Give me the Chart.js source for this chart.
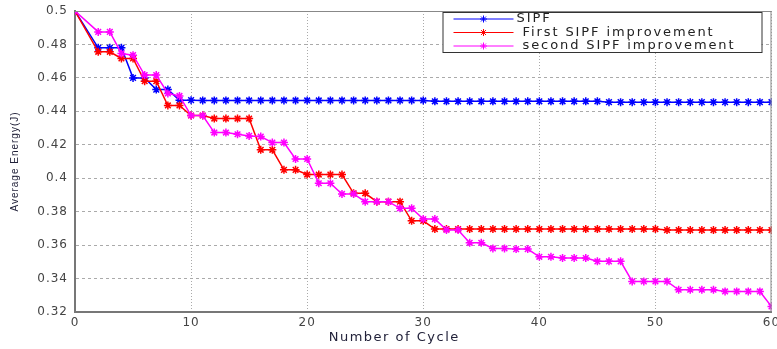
<!DOCTYPE html>
<html>
<head>
<meta charset="utf-8">
<script src="https://cdn.jsdelivr.net/npm/chart.js@4/dist/chart.umd.min.js"></script>
<style>
  html, body { margin: 0; padding: 0; background: #fff; }
  #chart { display: block; }
</style>
</head>
<body>
<canvas id="chart" width="777" height="349"></canvas>
<script>
// number of cycle (x) - the first sample is at 0, next one at 2
const cycles = [0, 2, 3, 4, 5, 6, 7, 8, 9, 10,
  11, 12, 13, 14, 15, 16, 17, 18, 19, 20,
  21, 22, 23, 24, 25, 26, 27, 28, 29, 30,
  31, 32, 33, 34, 35, 36, 37, 38, 39, 40,
  41, 42, 43, 44, 45, 46, 47, 48, 49, 50,
  51, 52, 53, 54, 55, 56, 57, 58, 59, 60];

// average energy (J)
const sipf = [0.5, 0.478, 0.478, 0.478, 0.46, 0.46, 0.453, 0.453, 0.4467, 0.4467,
  0.4465, 0.4465, 0.4465, 0.4465, 0.4465, 0.4465, 0.4465, 0.4465, 0.4465, 0.4465,
  0.4465, 0.4465, 0.4465, 0.4465, 0.4465, 0.4465, 0.4465, 0.4465, 0.4465, 0.4465,
  0.446, 0.446, 0.446, 0.446, 0.446, 0.446, 0.446, 0.446, 0.446, 0.446,
  0.446, 0.446, 0.446, 0.446, 0.446, 0.4455, 0.4455, 0.4455, 0.4455, 0.4455,
  0.4455, 0.4455, 0.4455, 0.4455, 0.4455, 0.4455, 0.4455, 0.4455, 0.4455, 0.4455];

const firstImprovement = [0.5, 0.4756, 0.4756, 0.4716, 0.4716, 0.458, 0.458, 0.4435, 0.4435, 0.4375,
  0.4375, 0.4357, 0.4357, 0.4357, 0.4357, 0.417, 0.417, 0.405, 0.405, 0.4022,
  0.4022, 0.4022, 0.4022, 0.391, 0.391, 0.386, 0.386, 0.386, 0.3745, 0.3745,
  0.3696, 0.3696, 0.3696, 0.3696, 0.3696, 0.3696, 0.3696, 0.3696, 0.3696, 0.3696,
  0.3696, 0.3696, 0.3696, 0.3696, 0.3696, 0.3696, 0.3696, 0.3696, 0.3696, 0.3696,
  0.369, 0.369, 0.369, 0.369, 0.369, 0.369, 0.369, 0.369, 0.369, 0.369];

const secondImprovement = [0.5, 0.4875, 0.4875, 0.4746, 0.4736, 0.4617, 0.4617, 0.4507, 0.4492, 0.4375,
  0.4375, 0.4273, 0.4273, 0.4263, 0.4253, 0.4249, 0.4213, 0.4213, 0.4115, 0.4115,
  0.397, 0.397, 0.3906, 0.3906, 0.386, 0.386, 0.386, 0.382, 0.382, 0.3756,
  0.3756, 0.3691, 0.3691, 0.3614, 0.3614, 0.358, 0.358, 0.3576, 0.3576, 0.353,
  0.353, 0.3523, 0.3523, 0.3523, 0.3503, 0.3503, 0.3503, 0.3383, 0.3383, 0.3383,
  0.3383, 0.3333, 0.3333, 0.3333, 0.3333, 0.3323, 0.3323, 0.3323, 0.3323, 0.3233];

const seriesNames = ['SIPF', ' First SIPF improvement', ' second SIPF improvement'];
const xTicks = [0, 10, 20, 30, 40, 50, 60];
const yTicks = [0.32, 0.34, 0.36, 0.38, 0.4, 0.42, 0.44, 0.46, 0.48, 0.5];

const toPoints = vals => vals.map((v, i) => ({ x: cycles[i], y: v }));

function makeSet(label, vals, color, order) {
  return {
    label: label,
    data: toPoints(vals),
    borderColor: color,
    backgroundColor: color,
    borderWidth: 1.5,
    pointStyle: 'star',
    pointRadius: 4,
    pointBorderWidth: 1.5,
    pointBorderColor: color,
    tension: 0,
    order: order
  };
}

// little asterisk for the legend lines
function drawStar(ctx, x, y, r) {
  ctx.beginPath();
  for (let k = 0; k < 4; k++) {
    const ang = k * Math.PI / 4;
    const dx = Math.cos(ang) * r, dy = Math.sin(ang) * r;
    ctx.moveTo(x - dx, y - dy);
    ctx.lineTo(x + dx, y + dy);
  }
  ctx.stroke();
}

// frame round the plot, x title and matlab style legend box
const framePlugin = {
  id: 'frame',
  beforeDraw(chart) {
    chart.ctx.letterSpacing = '1px';
  },
  afterDraw(chart) {
    const ctx = chart.ctx;
    const a = chart.chartArea;
    ctx.save();
    ctx.strokeStyle = '#888';
    ctx.lineWidth = 1;
    ctx.beginPath();
    ctx.moveTo(a.left, a.top + 0.5);
    ctx.lineTo(a.right, a.top + 0.5);
    ctx.moveTo(a.right - 0.5, a.top);
    ctx.lineTo(a.right - 0.5, a.bottom);
    ctx.stroke();

    // x axis title
    ctx.letterSpacing = '1.5px';
    ctx.fillStyle = '#22223a';
    ctx.font = '13px "DejaVu Sans"';
    ctx.textAlign = 'center';
    ctx.textBaseline = 'middle';
    ctx.fillText('Number of Cycle', (a.left + a.right) / 2 - 29, 338);

    // legend
    const bx = a.right - 329, by = a.top + 1, bw = 319, bh = 40;
    ctx.fillStyle = '#fff';
    ctx.fillRect(bx, by, bw, bh);
    ctx.strokeStyle = '#333';
    ctx.lineWidth = 1;
    ctx.strokeRect(bx + 0.5, by + 0.5, bw, bh);
    ctx.font = '13px "DejaVu Sans"';
    ctx.textAlign = 'left';
    ctx.letterSpacing = '1.9px';
    chart.data.datasets.forEach((ds, i) => {
      const y = by + 7 + i * 13.5;
      ctx.strokeStyle = ds.borderColor;
      ctx.lineWidth = 1;
      ctx.beginPath();
      ctx.moveTo(bx + 11, y);
      ctx.lineTo(bx + 71, y);
      ctx.stroke();
      drawStar(ctx, bx + 41, y, 3.5);
      ctx.fillStyle = '#222';
      ctx.fillText(ds.label, bx + 74, y);
    });
    ctx.restore();
  }
};

new Chart(document.getElementById('chart'), {
  type: 'line',
  data: {
    datasets: [
      makeSet(seriesNames[0], sipf, '#0000ff', 2),
      makeSet(seriesNames[1], firstImprovement, '#ff0000', 1),
      makeSet(seriesNames[2], secondImprovement, '#ff00ff', 0)
    ]
  },
  plugins: [framePlugin],
  options: {
    responsive: false,
    animation: false,
    layout: { padding: { top: 11, right: 2, left: 0, bottom: 0 } },
    plugins: {
      legend: { display: false },
      tooltip: { enabled: false }
    },
    scales: {
      x: {
        type: 'linear',
        min: 0,
        max: 60,
        afterBuildTicks: s => { s.ticks = xTicks.map(v => ({ value: v })); },
        afterFit: s => { s.height = 37; s.paddingLeft = 0; s.paddingRight = 0; },
        ticks: {
          color: '#444',
          font: { family: 'DejaVu Sans', size: 12 },
          padding: 4,
          maxRotation: 0,
          callback: v => String(v)
        },
        grid: {
          color: '#aaa',
          lineWidth: 1,
          drawTicks: false
        },
        border: { display: true, color: '#777', width: 2, dash: [1, 2] },
        title: { display: false }
      },
      y: {
        min: 0.32,
        max: 0.5,
        afterBuildTicks: s => { s.ticks = yTicks.map(v => ({ value: v })); },
        afterFit: s => { s.width = 75; s.paddingTop = 0; s.paddingBottom = 0; },
        ticks: {
          color: '#444',
          font: { family: 'DejaVu Sans', size: 12 },
          padding: 7,
          callback: v => String(+v.toFixed(2))
        },
        grid: {
          color: '#aaa',
          lineWidth: 1,
          drawTicks: false
        },
        border: { display: true, color: '#777', width: 2, dash: [3, 3] },
        title: {
          display: true,
          text: 'Average Energy(J)',
          color: '#22223a',
          font: { family: 'Liberation Sans', size: 10 },
          padding: { top: 9, bottom: 0 }
        }
      }
    }
  }
});
</script>
</body>
</html>
